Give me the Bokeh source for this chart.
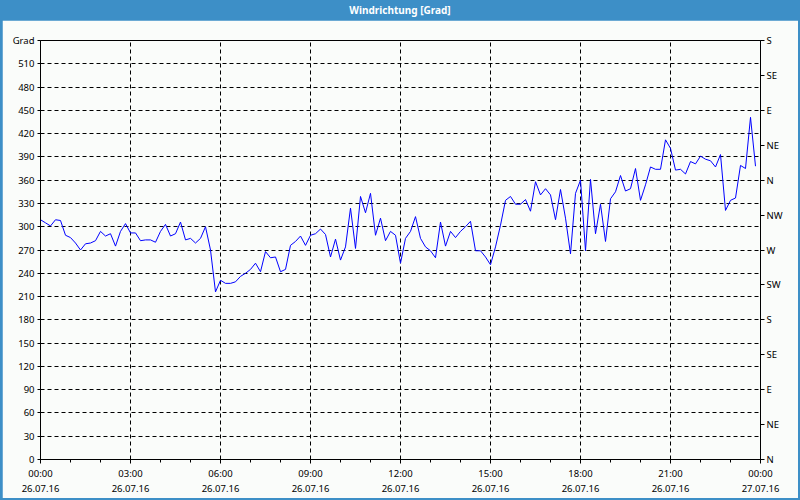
from bokeh.plotting import figure
from bokeh.models import Div, LinearAxis, FixedTicker, Range1d
from bokeh.layouts import column
from bokeh.embed import file_html
from bokeh.resources import INLINE

title_text = "Windrichtung [Grad]"
y_unit_label = "Grad"
tick_hours = [0, 3, 6, 9, 12, 15, 18, 21, 24]
time_labels = ["00:00", "03:00", "06:00", "09:00", "12:00", "15:00", "18:00", "21:00", "00:00"]
date_labels = ["26.07.16"] * 8 + ["27.07.16"]
deg_ticks = list(range(0, 541, 30))
compass_ticks = list(range(0, 541, 45))
compass_labels = ["N", "NE", "E", "SE", "S", "SW", "W", "NW", "N", "NE", "E", "SE", "S"]
interval_minutes = 10

direction = [
    309, 305, 301, 309, 308, 289, 286, 279, 270, 278, 279, 282, 294, 288, 291, 275,
    294, 304, 292, 292, 282, 283, 283, 280, 294, 303, 288, 291, 306, 283, 285, 279,
    285, 300, 270, 216, 231, 227, 227, 229, 236, 240, 245, 253, 242, 268, 260, 261,
    242, 245, 276, 281, 288, 276, 289, 291, 297, 290, 261, 284, 257, 274, 324, 272,
    339, 318, 343, 289, 311, 282, 294, 289, 253, 285, 294, 313, 285, 274, 269, 260,
    306, 275, 294, 286, 294, 300, 307, 269, 269, 261, 251, 274, 302, 334, 339, 329,
    329, 335, 320, 358, 341, 349, 341, 309, 348, 311, 265, 343, 360, 269, 361, 291,
    329, 281, 336, 345, 366, 346, 349, 375, 334, 354, 377, 374, 374, 412, 401, 373,
    374, 368, 384, 381, 391, 387, 385, 377, 393, 321, 334, 337, 379, 375, 441, 378,
]
hours = [i * interval_minutes / 60 for i in range(len(direction))]

BLUE = "#3d8fc7"
BG = "#fafcfa"
FONT = "Noto Sans"
FS = "9.5px"

header = Div(
    text=title_text, width=800, height=20, margin=(0, 0, 0, 0),
    styles={"background-color": BLUE, "color": "white", "font-weight": "bold",
            "font-family": FONT, "font-size": "10px", "text-align": "center",
            "line-height": "20px"},
)

p = figure(
    width=796, height=478, margin=(0, 2, 2, 2),
    x_range=Range1d(0, 24), y_range=Range1d(0, 540),
    output_backend="svg", toolbar_location=None,
    min_border_left=38, min_border_right=38, min_border_top=20, min_border_bottom=38,
    background_fill_color=BG, border_fill_color=BG,
    outline_line_color="black", outline_line_width=1,
)

p.line(hours, direction, line_color="#0000ff", line_width=1)

# x axis
xa = p.xaxis[0]
xa.ticker = FixedTicker(ticks=tick_hours, minor_ticks=list(range(25)))
xa.major_label_overrides = {h: f"{t}\n{d}" for h, t, d in zip(tick_hours, time_labels, date_labels)}
xa.major_tick_in = 0
xa.major_tick_out = 4
xa.minor_tick_in = 0
xa.minor_tick_out = 3
xa.major_label_standoff = 3

# left y axis
ya = p.yaxis[0]
ya.ticker = FixedTicker(ticks=deg_ticks, minor_ticks=[])
ya.major_label_overrides = {540: y_unit_label}
ya.major_tick_in = 0
ya.major_tick_out = 3
ya.major_label_standoff = 3

# right compass axis
ra = LinearAxis(ticker=FixedTicker(ticks=compass_ticks, minor_ticks=[]))
ra.major_label_overrides = dict(zip(compass_ticks, compass_labels))
ra.major_tick_in = 0
ra.major_tick_out = 4
ra.major_label_standoff = 2
p.add_layout(ra, "right")

for ax in [xa, ya, ra]:
    ax.axis_line_color = "black"
    ax.major_tick_line_color = "black"
    ax.minor_tick_line_color = "black"
    ax.major_label_text_font = FONT
    ax.major_label_text_font_size = FS
    ax.major_label_text_color = "black"

p.xgrid.ticker = FixedTicker(ticks=tick_hours[1:-1])
p.ygrid.ticker = FixedTicker(ticks=deg_ticks[1:-1])
for g in [p.xgrid, p.ygrid]:
    g.grid_line_color = "black"
    g.grid_line_dash = "4 3"
    g.grid_line_width = 1

layout = column(header, p, spacing=0, styles={"background-color": BLUE})

open("out.html", "w").write(file_html(layout, INLINE))
